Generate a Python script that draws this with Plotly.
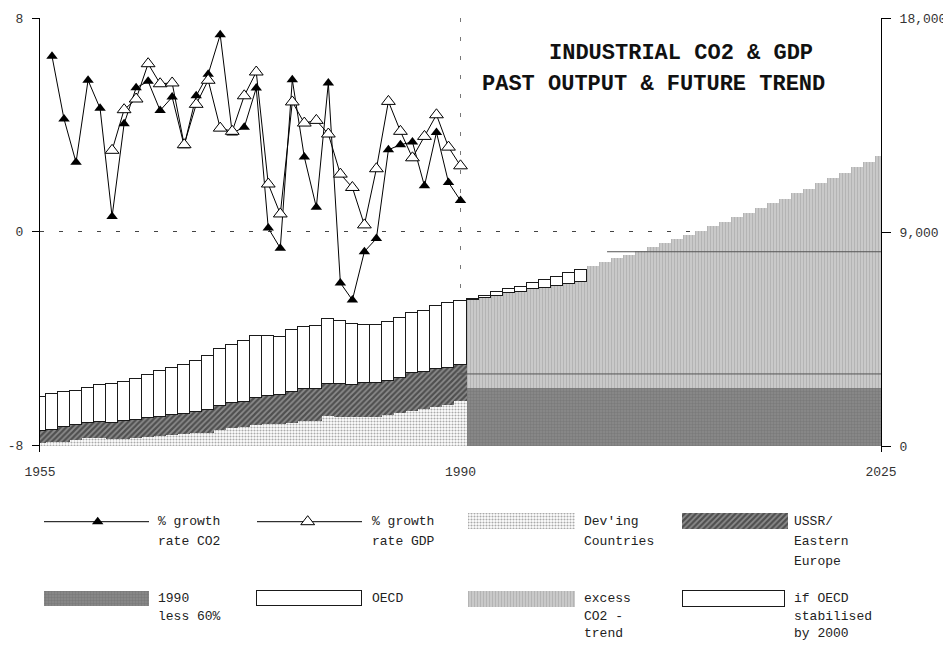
import plotly.graph_objects as go

# ---------------- data ----------------
years_past = list(range(1955, 1991))
years_future = list(range(1991, 2026))
years_stab = list(range(1991, 2001))
years_co2 = list(range(1956, 1991))
years_gdp = list(range(1961, 1991))

# % growth rates (left axis)
co2_growth = [6.57, 4.22, 2.6, 5.67, 4.62, 0.57, 4.04, 5.39, 5.63, 4.54,
              5.04, 3.22, 5.09, 5.9, 7.37, 3.7, 3.91, 5.38, 0.14, -0.61,
              5.69, 2.8, 0.92, 5.57, -1.91, -2.55, -0.74, -0.25, 3.07, 3.26,
              3.36, 1.72, 3.72, 1.85, 1.17]
gdp_growth = [3.05, 4.57, 4.97, 6.29, 5.54, 5.57, 3.26, 4.77, 5.67, 3.88,
              3.76, 5.09, 5.98, 1.79, 0.67, 4.86, 4.07, 4.17, 3.66, 2.16,
              1.66, 0.26, 2.36, 4.88, 3.76, 2.77, 3.57, 4.38, 3.17, 2.47]

# CO2 output (right axis), 1955-1990
devg_countries = [139, 156, 181, 253, 349, 349, 295, 307, 337, 366, 408, 463,
                  493, 535, 547, 674, 770, 813, 871, 926, 926, 981, 1065, 1040,
                  1263, 1234, 1208, 1234, 1234, 1292, 1377, 1461, 1558, 1655,
                  1726, 1882]
ussr_eeurope = [505, 530, 606, 619, 606, 661, 686, 733, 745, 800, 825, 855,
                855, 884, 956, 1023, 1040, 1053, 1149, 1166, 1234, 1280, 1347,
                1360, 1360, 1364, 1347, 1406, 1419, 1457, 1499, 1600, 1570,
                1575, 1558, 1516]
oecd = [1406, 1490, 1474, 1457, 1499, 1545, 1617, 1642, 1751, 1823, 1911,
        1979, 2050, 2172, 2286, 2374, 2429, 2543, 2623, 2551, 2442, 2623,
        2598, 2665, 2737, 2652, 2568, 2442, 2429, 2484, 2526, 2526, 2555,
        2665, 2724, 2694]

# CO2 output (right axis), 1991-2025
less_60pct_1990 = [2430, 2430, 2430, 2430, 2430, 2430, 2430, 2430, 2430, 2430,
                   2430, 2430, 2430, 2430, 2430, 2430, 2430, 2430, 2430, 2430,
                   2430, 2430, 2430, 2430, 2430, 2430, 2430, 2430, 2430, 2430,
                   2430, 2430, 2430, 2430, 2430]
excess_co2_trend = [3717, 3788, 3885, 3999, 4066, 4167, 4234, 4319, 4403, 4487,
                    5148, 5304, 5480, 5611, 5780, 5948, 6116, 6285, 6453, 6622,
                    6832, 7000, 7211, 7379, 7590, 7800, 7969, 8221, 8390, 8642,
                    8853, 9063, 9316, 9526, 9779]
oecd_stabilised = [40, 110, 156, 175, 211, 253, 325, 378, 435, 493]

ref_levels = [3030, 8170]
ref_start_years = [1989.7, 2002.2]

x_ticks = [1955, 1990, 2025]
x_tick_labels = ["1955", "1990", "2025"]
left_ticks = [-8, 0, 8]
left_tick_labels = ["-8", "0", "8"]
right_ticks = [0, 9000, 18000]

title_lines = ["INDUSTRIAL CO2 & GDP", "PAST OUTPUT & FUTURE TREND"]
lbl_co2 = ["% growth", "rate CO2"]
lbl_gdp = ["% growth", "rate GDP"]
lbl_dev = ["Dev'ing", "Countries"]
lbl_ussr = ["USSR/", "Eastern", "Europe"]
lbl_less = ["1990", "less 60%"]
lbl_oecd = ["OECD"]
lbl_excess = ["excess", "CO2 -", "trend"]
lbl_stab = ["if OECD", "stabilised", "by 2000"]

# ---------------- geometry & styles ----------------
WIN_W, WIN_H = 951, 648
OFF = 8                      # page body margin: figure starts 8px into the window
FW, FH = WIN_W - OFF, WIN_H - 2 * OFF   # no vertical overflow -> no scrollbar
# plot box in window pixels
PX0, PX1, PY0, PY1 = 40, 881, 18, 452
FONT = "Liberation Mono"
TXT = "#222222"

pat_dev = dict(shape=".", fgcolor="#555555", bgcolor="#ffffff", size=3, solidity=0.4)
pat_ussr = dict(shape="/", fgcolor="#111111", bgcolor="#8c8c8c", size=4, solidity=0.55)
pat_less = dict(shape=".", fgcolor="#6a6a6a", bgcolor="#8a8a8a", size=3, solidity=0.5)
pat_excess = dict(shape="|", fgcolor="#979797", bgcolor="#d0d0d0", size=3, solidity=0.5)
box_line = dict(color="#1a1a1a", width=1.2)


def pxx(x):
    return (x - OFF) / FW


def pxy(y):
    return 1 - (y - OFF) / FH


fig = go.Figure()

# stacked bars (main subplot, right axis)
fig.add_trace(go.Bar(x=years_past, y=devg_countries, width=1,
                     marker=dict(color="white", pattern=pat_dev, line=dict(width=0))))
fig.add_trace(go.Bar(x=years_past, y=ussr_eeurope, width=1,
                     marker=dict(color="#8c8c8c", pattern=pat_ussr, line=dict(width=0))))
fig.add_trace(go.Bar(x=years_past, y=oecd, width=1,
                     marker=dict(color="white", line=box_line)))
fig.add_trace(go.Bar(x=years_future, y=less_60pct_1990, width=1,
                     marker=dict(color="#8a8a8a", pattern=pat_less, line=dict(width=0))))
fig.add_trace(go.Bar(x=years_future, y=excess_co2_trend, width=1,
                     marker=dict(color="#d0d0d0", pattern=pat_excess, line=dict(width=0))))
fig.add_trace(go.Bar(x=years_stab, y=oecd_stabilised, width=1,
                     marker=dict(color="white", line=box_line)))

# growth lines (overlay, left axis)
fig.add_trace(go.Scatter(x=years_co2, y=co2_growth, yaxis="y2", mode="lines+markers",
                         line=dict(color="black", width=1),
                         marker=dict(symbol="triangle-up", size=10, color="black")))
fig.add_trace(go.Scatter(x=years_gdp, y=gdp_growth, yaxis="y2", mode="lines+markers",
                         line=dict(color="black", width=1),
                         marker=dict(symbol="triangle-up", size=12, color="white",
                                     line=dict(color="black", width=1))))

# ---------------- legend keys (hidden full-figure axes in window pixels) ----------------
def key_bar(x0, x1, y0, y1, marker):
    fig.add_trace(go.Bar(x=[(x0 + x1) / 2], y=[y1 - y0], base=[y0], width=[x1 - x0],
                         xaxis="x3", yaxis="y3", marker=marker))


def key_line(x0, x1, y, xm, mk):
    fig.add_trace(go.Scatter(x=[x0, x1], y=[y, y], xaxis="x3", yaxis="y3", mode="lines",
                             line=dict(color="black", width=1)))
    fig.add_trace(go.Scatter(x=[xm], y=[y], xaxis="x3", yaxis="y3", mode="markers",
                             marker=mk))


ROW1, ROW2, LSTEP = 521.7, 598.5, 17.5

key_line(44, 149, ROW1, 97.7, dict(symbol="triangle-up", size=10, color="black"))
key_line(257, 362, ROW1, 307.7, dict(symbol="triangle-up", size=12, color="white",
                                     line=dict(color="black", width=1)))
key_bar(468, 575, ROW1 - 8.5, ROW1 + 7.5, dict(color="white", pattern=pat_dev, line=dict(width=0)))
key_bar(682, 788, ROW1 - 8.5, ROW1 + 7.5, dict(color="#8c8c8c", pattern=pat_ussr, line=dict(width=0)))
key_bar(44, 149, ROW2 - 7.7, ROW2 + 7.8, dict(color="#8a8a8a", pattern=pat_less, line=dict(width=0)))
key_bar(257, 362, ROW2 - 7.7, ROW2 + 7.8, dict(color="white", line=box_line))
key_bar(468, 575, ROW2 - 7.7, ROW2 + 8.3, dict(color="#d0d0d0", pattern=pat_excess, line=dict(width=0)))
key_bar(683, 785, ROW2 - 7.7, ROW2 + 8.3, dict(color="white", line=box_line))

annotations = []


def key_text(x, y, lines, step):
    for i, t in enumerate(lines):
        annotations.append(dict(text=t, x=pxx(x), y=pxy(y + step * i), xref="paper", yref="paper",
                                xanchor="left", yanchor="middle", showarrow=False,
                                font=dict(family=FONT, size=13, color=TXT)))


key_text(156, ROW1, lbl_co2, 20)
key_text(369.5, ROW1, lbl_gdp, 20)
key_text(582, ROW1, lbl_dev, 20)
key_text(791.5, ROW1, lbl_ussr, 20)
key_text(156, ROW2, lbl_less, LSTEP)
key_text(369.5, ROW2, lbl_oecd, LSTEP)
key_text(582, ROW2, lbl_excess, LSTEP)
key_text(791.5, ROW2, lbl_stab, LSTEP)

# title
for (cx, cy), t in zip([(680.8, 54), (653.3, 85)], title_lines):
    annotations.append(dict(text="<b>" + t + "</b>", x=pxx(cx), y=pxy(cy), xref="paper",
                            yref="paper", xanchor="center", yanchor="middle", showarrow=False,
                            font=dict(family=FONT, size=22, color="#111111")))

shapes = []
for lvl, x0 in zip(ref_levels, ref_start_years):
    shapes.append(dict(type="line", xref="x", yref="y", x0=x0, x1=2025, y0=lvl, y1=lvl,
                       line=dict(color="#555555", width=1), layer="above"))

# axis ranges so that the plot box pixels match the reference
bar_px_per_unit = (446 - PY0) / 18000.0
bar_bottom = -(PY1 - 446) / bar_px_per_unit
line_px_per_unit = (445.7 - PY0) / 16.0
line_bottom = -8 - (PY1 - 445.7) / line_px_per_unit

tickfont = dict(family=FONT, size=13, color="#333333")

fig.update_layout(
    width=FW, height=FH,
    margin=dict(l=0, r=0, t=0, b=0, autoexpand=False),
    paper_bgcolor="white", plot_bgcolor="rgba(0,0,0,0)",
    barmode="stack", bargap=0, showlegend=False, hovermode=False,
    xaxis=dict(domain=[pxx(PX0), pxx(PX1)], range=[1955, 2025], tickvals=x_ticks,
               ticktext=x_tick_labels, showgrid=True, gridcolor="#777777", gridwidth=1,
               griddash="4px,15px", zeroline=False, showline=False, ticks="",
               tickfont=tickfont, ticklabelstandoff=10, anchor="y", automargin=False),
    yaxis=dict(domain=[pxy(PY1), pxy(PY0)], range=[bar_bottom, 18000], side="right",
               tickvals=right_ticks, tickformat=",d", ticks="outside", ticklen=9,
               tickcolor="black", showline=True, linecolor="black", linewidth=1,
               showgrid=False, zeroline=False, tickfont=tickfont, ticklabelstandoff=6,
               anchor="x", automargin=False),
    yaxis2=dict(overlaying="y", side="left", range=[line_bottom, 8], tickvals=left_ticks,
                ticktext=left_tick_labels,
                ticks="outside", ticklen=7, tickcolor="black", showline=True,
                linecolor="black", linewidth=1, showgrid=True, gridcolor="#444444",
                gridwidth=1, griddash="4px,15px", zeroline=False, tickfont=tickfont,
                ticklabelstandoff=6, anchor="x", automargin=False),
    xaxis3=dict(domain=[0, 1], range=[OFF, OFF + FW], visible=False, anchor="y3",
                fixedrange=True, automargin=False),
    yaxis3=dict(domain=[0, 1], range=[OFF + FH, OFF], visible=False, anchor="x3",
                fixedrange=True, automargin=False),
    annotations=annotations,
    shapes=shapes,
)

fig.write_html("out.html")
